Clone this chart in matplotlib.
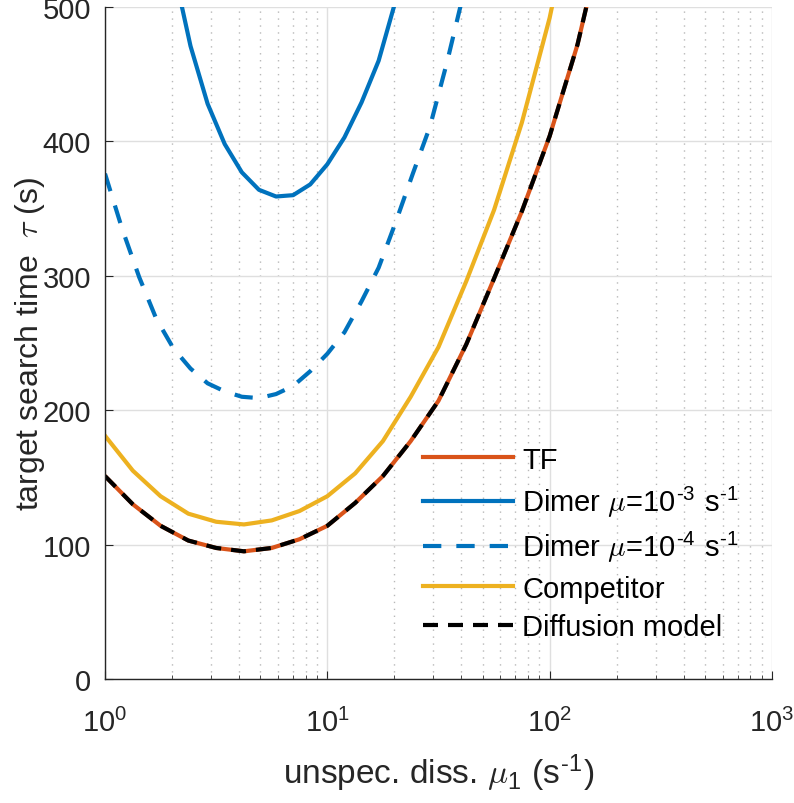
import numpy as np
import matplotlib
matplotlib.use('Agg')
import matplotlib.pyplot as plt
from matplotlib.ticker import LogLocator, NullFormatter, MultipleLocator

plt.rcParams['font.family'] = ['Liberation Sans', 'DejaVu Sans']
plt.rcParams['mathtext.fontset'] = 'cm'

# sampling grids
mu_coarse = [1.0, 1.334, 1.778, 2.371, 3.162, 4.217, 5.623, 7.499, 10.0, 13.34,
             17.78, 23.71, 31.62, 42.17, 56.23, 74.99, 100.0, 133.4, 177.8]
mu_fine = [1.0, 1.194, 1.425, 1.701, 2.031, 2.424, 2.894, 3.455, 4.125, 4.924,
           5.878, 7.017, 8.377, 10.0, 11.94, 14.25, 17.01, 20.31, 24.24, 28.94,
           34.55, 41.25]

# target search time (s)
tau_tf = [151, 130, 114, 103, 97.5, 95, 97.5, 104, 114, 131,
          151, 177, 207, 249, 298, 348, 404, 472, 560]
tau_competitor = [181, 155, 136, 123, 117, 115, 118, 125, 136, 153,
                  177, 210, 247, 296, 349, 414, 492, 590, 700]
tau_diffusion = [151, 130, 114, 103, 97.5, 95, 97.5, 104, 114, 131,
                 151, 177, 207, 249, 298, 348, 404, 472, 560]

mu_dimer3 = mu_fine[3:19]
tau_dimer3 = [600, 529, 471, 428, 398, 377, 364, 359, 360, 368,
              383, 403, 429, 460, 505, 560]
tau_dimer4 = [376, 335, 299, 268, 246, 231, 220, 214, 210, 209, 212,
              218, 229, 242, 258, 281, 306, 340, 376, 411, 459, 512]

hy = '\u2010'
labels = ['TF',
          r'Dimer $\mu$=10$^{\mathregular{' + hy + r'3}}$ s$^{\mathregular{' + hy + r'1}}$',
          r'Dimer $\mu$=10$^{\mathregular{' + hy + r'4}}$ s$^{\mathregular{' + hy + r'1}}$',
          'Competitor',
          'Diffusion model']

blue = '#0072BD'
orange = '#D95319'
yellow = '#EDB120'
axcol = '#262626'

fig = plt.figure(figsize=(7.94, 8.04), dpi=100)
ax = fig.add_axes([105 / 794, 124 / 804, 667 / 794, 672 / 804])

lw = 3.0
ax.plot(mu_coarse, tau_tf, color=orange, lw=lw, label=labels[0])
ax.plot(mu_dimer3, tau_dimer3, color=blue, lw=lw, label=labels[1])
ax.plot(mu_fine, tau_dimer4, color=blue, lw=lw, ls=(0, (4.4, 3.6)), label=labels[2])
ax.plot(mu_coarse, tau_competitor, color=yellow, lw=lw, label=labels[3])
ax.plot(mu_coarse, tau_diffusion, color='black', lw=lw, ls=(0, (3.6, 2.4)), label=labels[4])

ax.set_xscale('log')
ax.set_xlim(1, 1000)
ax.set_ylim(0, 500)
ax.yaxis.set_major_locator(MultipleLocator(100))
ax.xaxis.set_major_locator(LogLocator(base=10))
ax.xaxis.set_minor_locator(LogLocator(base=10, subs=np.arange(2, 10)))
ax.xaxis.set_minor_formatter(NullFormatter())

ax.grid(True, which='major', color='#dfdfdf', lw=1.0)
ax.grid(True, which='minor', axis='x', color='#b8b8b8', lw=1.0, ls=(0, (1, 4)))
ax.set_axisbelow(True)

for s in ['top', 'right']:
    ax.spines[s].set_visible(False)
for s in ['left', 'bottom']:
    ax.spines[s].set_color(axcol)
    ax.spines[s].set_linewidth(1.0)

ax.tick_params(which='both', direction='in', colors=axcol, labelsize=21)
ax.tick_params(which='major', length=6)
ax.tick_params(which='minor', length=3)
ax.tick_params(axis='x', pad=21)
ax.tick_params(axis='y', pad=10)

ax.set_xlabel(r'unspec. diss. $\mu_{\mathregular{1}}$ (s$^{\mathregular{' + hy + r'1}}$)',
              fontsize=24, color=axcol, labelpad=10)
ax.set_ylabel(r'target search time  $\tau$ (s)', fontsize=23, color=axcol, labelpad=-3)

leg = ax.legend(loc='center left', bbox_to_anchor=(0.455, 0.202), frameon=False,
                fontsize=21, handlelength=3.1, handletextpad=0.3, labelspacing=0.35,
                borderpad=0)
for t in leg.get_texts():
    t.set_color('black')

fig.savefig('out.png', dpi=100)
